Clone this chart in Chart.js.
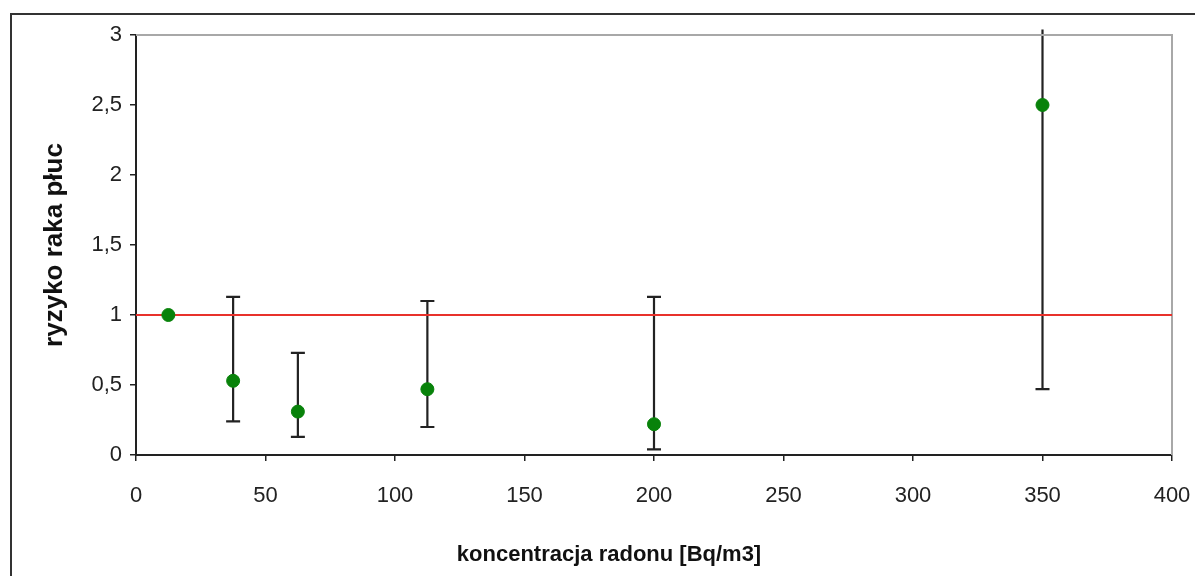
<!DOCTYPE html>
<html lang="pl">
<head>
    <meta charset="UTF-8">
    <title>Ryzyko raka płuc a stężenie radonu</title>
    <script src="https://cdn.jsdelivr.net/npm/chart.js@4"></script>
    <style>
        html, body { margin: 0; padding: 0; background: #fff; overflow: hidden; }
        .frame {
            position: absolute;
            left: 10px; top: 13px;
            width: 1200px; height: 600px;
            border: 2px solid #333;
        }
        #chart { position: absolute; left: 0; top: 0; }
    </style>
</head>
<body>
    <div class="frame"></div>
    <canvas id="chart" width="1195" height="576"></canvas>

    <script>
        // radon concentration classes [Bq/m3] and relative lung cancer risk
        const concentrations = [12.5, 37.5, 62.5, 112.5, 200, 350];
        const risk = [1.0, 0.53, 0.31, 0.47, 0.22, 2.5];
        const riskLow = [1.0, 0.24, 0.13, 0.20, 0.04, 0.47];
        const riskHigh = [1.0, 1.13, 0.73, 1.10, 1.13, 3.04];
        const referenceRisk = 1;

        const xTickValues = [0, 50, 100, 150, 200, 250, 300, 350, 400];
        const xTickLabels = ['0', '50', '100', '150', '200', '250', '300', '350', '400'];
        const yTickValues = [0, 0.5, 1, 1.5, 2, 2.5, 3];
        const yTickLabels = ['0', '0,5', '1', '1,5', '2', '2,5', '3'];

        const xTitle = 'koncentracja radonu [Bq/m3]';
        const yTitle = 'ryzyko raka płuc';

        const FONT = '"Liberation Sans", Arial, sans-serif';

        // vertical confidence intervals with caps, drawn under the points
        const errorBars = {
            id: 'errorBars',
            beforeDatasetsDraw(chart) {
                const { ctx, scales: { x, y } } = chart;
                ctx.save();
                ctx.strokeStyle = '#222';
                ctx.lineWidth = 2.2;
                concentrations.forEach((c, i) => {
                    if (riskLow[i] === riskHigh[i]) return;
                    const px = x.getPixelForValue(c);
                    const top = y.getPixelForValue(riskHigh[i]);
                    const bot = y.getPixelForValue(riskLow[i]);
                    ctx.beginPath();
                    ctx.moveTo(px, top);
                    ctx.lineTo(px, bot);
                    ctx.moveTo(px - 7, bot);
                    ctx.lineTo(px + 7, bot);
                    if (riskHigh[i] <= y.max) {
                        ctx.moveTo(px - 7, top);
                        ctx.lineTo(px + 7, top);
                    }
                    ctx.stroke();
                });
                ctx.restore();
            }
        };

        // grey frame on the top and right of the plot area
        const plotFrame = {
            id: 'plotFrame',
            beforeDatasetsDraw(chart) {
                const { ctx, chartArea: a } = chart;
                ctx.save();
                ctx.strokeStyle = '#a8a8a8';
                ctx.lineWidth = 2;
                ctx.beginPath();
                ctx.moveTo(a.left, a.top);
                ctx.lineTo(a.right, a.top);
                ctx.lineTo(a.right, a.bottom);
                ctx.stroke();
                ctx.restore();
            }
        };

        // x axis title sits a little left of the plot centre
        const xAxisTitle = {
            id: 'xAxisTitle',
            afterDraw(chart) {
                const { ctx, chartArea: a } = chart;
                ctx.save();
                ctx.font = 'bold 22px ' + FONT;
                ctx.fillStyle = '#111';
                ctx.textAlign = 'center';
                ctx.textBaseline = 'middle';
                ctx.fillText(xTitle, (a.left + a.right) / 2 - 45, 555);
                ctx.restore();
            }
        };

        new Chart(document.getElementById('chart'), {
            type: 'scatter',
            data: {
                datasets: [{
                    label: 'ryzyko',
                    data: concentrations.map((c, i) => ({ x: c, y: risk[i] })),
                    backgroundColor: '#08820a',
                    borderColor: '#08820a',
                    pointRadius: 6.5,
                    order: 0
                }, {
                    type: 'line',
                    label: 'poziom odniesienia',
                    data: [{ x: 0, y: referenceRisk }, { x: 400, y: referenceRisk }],
                    borderColor: '#e8312b',
                    borderWidth: 2,
                    pointRadius: 0,
                    order: 1
                }]
            },
            options: {
                responsive: false,
                animation: false,
                layout: { padding: { left: 30, right: 23, top: 35, bottom: 0 } },
                plugins: {
                    legend: { display: false },
                    tooltip: { enabled: false }
                },
                scales: {
                    x: {
                        type: 'linear',
                        min: 0, max: 400,
                        afterBuildTicks: s => { s.ticks = xTickValues.map(v => ({ value: v })); },
                        afterFit: s => { s.height = 121; s.paddingLeft = 0; s.paddingRight = 0; },
                        ticks: {
                            callback: (v, i) => xTickLabels[i],
                            color: '#222',
                            font: { family: FONT, size: 22 },
                            padding: 22,
                            maxRotation: 0
                        },
                        grid: { drawOnChartArea: false, drawTicks: true, tickLength: 6, color: '#222', lineWidth: 1.5 },
                        border: { color: '#222', width: 2 }
                    },
                    y: {
                        min: 0, max: 3,
                        afterBuildTicks: s => { s.ticks = yTickValues.map(v => ({ value: v })); },
                        afterFit: s => { s.width = 106; },
                        ticks: {
                            callback: (v, i) => yTickLabels[i],
                            color: '#222',
                            font: { family: FONT, size: 22 },
                            padding: 8
                        },
                        grid: { drawOnChartArea: false, drawTicks: true, tickLength: 6, color: '#222', lineWidth: 1.5 },
                        border: { color: '#222', width: 2 },
                        title: {
                            display: true,
                            text: yTitle,
                            color: '#111',
                            font: { family: FONT, size: 26, weight: 'bold' },
                            padding: { top: 9, bottom: 0 }
                        }
                    }
                }
            },
            plugins: [errorBars, plotFrame, xAxisTitle]
        });
    </script>
</body>
</html>
